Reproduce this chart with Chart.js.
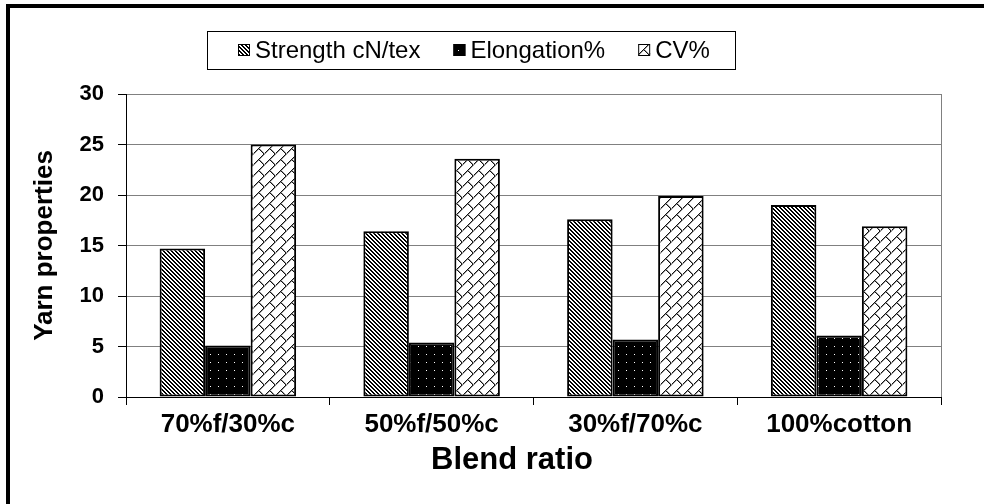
<!DOCTYPE html>
<html>
<head>
<meta charset="utf-8">
<script src="https://cdn.jsdelivr.net/npm/chart.js@4.4.1/dist/chart.umd.min.js"></script>
<style>
  html, body { margin: 0; padding: 0; background: #fff; }
  #wrap { width: 984px; height: 504px; }
</style>
</head>
<body>
<div id="wrap"><canvas id="yarnChart" width="984" height="504"></canvas></div>
<script>
// chart data
const blendRatios = ['70%f/30%c', '50%f/50%c', '30%f/70%c', '100%cotton'];
const seriesNames = ['Strength cN/tex', 'Elongation%', 'CV%'];
const strength = [14.7, 16.4, 17.6, 19.0];
const elongation = [5.1, 5.4, 5.7, 6.1];
const cv = [25.0, 23.6, 19.9, 16.9];
const yTicks = [0, 5, 10, 15, 20, 25, 30];
const xTitle = 'Blend ratio';
const yTitle = 'Yarn properties';

const FONT = '"Liberation Sans", Arial, sans-serif';

// small pixel tiles for the hatch fills
function makePattern(w, h, bg, pixels) {
    const c = document.createElement('canvas');
    c.width = w;
    c.height = h;
    const g = c.getContext('2d');
    g.fillStyle = bg;
    g.fillRect(0, 0, w, h);
    pixels.forEach(([x, y, col]) => {
        g.fillStyle = col;
        g.fillRect(x, y, 1, 1);
    });
    return g.createPattern(c, 'repeat');
}

// diagonal stripes "\"
const stripePx = [];
for (let y = 0; y < 4; y++) {
    for (let x = 0; x < 4; x++) {
        if ((x - y + 4) % 4 < 2) stripePx.push([x, y, '#000']);
    }
}
const strengthFill = makePattern(4, 4, '#fff', stripePx);

// black with white dots
const elongationFill = makePattern(8, 8, '#000', [[2, 2, '#fff']]);

// diagonal brick
const brickPx = [];
for (let x = 0; x < 11; x++) {
    brickPx.push([x, 10 - x, '#111']);
    brickPx.push([(x + 1) % 11, 10 - x, '#999']);
}
for (let x = 5; x < 11; x++) {
    brickPx.push([x, x, '#111']);
    brickPx.push([(x + 1) % 11, x, '#999']);
}
const cvFill = makePattern(11, 11, '#fff', brickPx);

const fills = [strengthFill, elongationFill, cvFill];

// outer frame, plot border, legend and x title
const decorations = {
    id: 'decorations',
    beforeDraw(chart) {
        const ctx = chart.ctx;
        ctx.save();
        ctx.fillStyle = '#fff';
        ctx.fillRect(0, 0, chart.width, chart.height);
        ctx.fillStyle = '#000';
        ctx.fillRect(6, 4, chart.width - 6, 4);
        ctx.fillRect(6, 4, 4, chart.height - 4);
        ctx.restore();
    },
    afterDraw(chart) {
        const ctx = chart.ctx;
        const area = chart.chartArea;
        ctx.save();
        // right edge of plot
        ctx.strokeStyle = '#808080';
        ctx.lineWidth = 1;
        ctx.beginPath();
        ctx.moveTo(Math.round(area.right) + 0.5, area.top);
        ctx.lineTo(Math.round(area.right) + 0.5, area.bottom);
        ctx.stroke();

        // legend
        ctx.strokeStyle = '#000';
        ctx.strokeRect(207.5, 31.5, 528, 38);
        ctx.font = '24px ' + FONT;
        ctx.textBaseline = 'middle';
        let x = 238;
        chart.data.datasets.forEach(ds => {
            ctx.fillStyle = ds.backgroundColor;
            ctx.fillRect(x, 44, 12, 12);
            ctx.strokeRect(x + 0.5, 44.5, 11, 11);
            ctx.fillStyle = '#000';
            ctx.fillText(ds.label, x + 17, 51);
            x += 17 + ctx.measureText(ds.label).width + 33;
        });

        // x axis title
        ctx.font = 'bold 31px ' + FONT;
        ctx.textAlign = 'center';
        ctx.fillText(xTitle, 512, 460);
        ctx.restore();
    }
};

const ctx = document.getElementById('yarnChart').getContext('2d');
new Chart(ctx, {
    type: 'bar',
    data: {
        labels: blendRatios,
        datasets: [strength, elongation, cv].map((values, i) => ({
            label: seriesNames[i],
            data: values,
            backgroundColor: fills[i],
            borderColor: '#000',
            borderWidth: 2,
            borderSkipped: false,
            categoryPercentage: 0.67,
            barPercentage: 1.0
        }))
    },
    options: {
        responsive: false,
        animation: false,
        layout: { padding: { left: 10, right: 43, top: 94, bottom: 0 } },
        plugins: {
            legend: { display: false },
            tooltip: { enabled: false }
        },
        scales: {
            x: {
                afterFit: s => { s.height = 107; },
                grid: { offset: true, drawOnChartArea: false, tickLength: 8, tickColor: '#000' },
                border: { color: '#000', width: 1 },
                ticks: {
                    color: '#000',
                    padding: 4,
                    maxRotation: 0,
                    font: { family: FONT, size: 26, weight: 'bold' }
                }
            },
            y: {
                min: 0,
                max: 30,
                afterFit: s => { s.width = 116; },
                afterBuildTicks: s => { s.ticks = yTicks.map(v => ({ value: v })); },
                grid: { color: '#808080', tickLength: 8, tickColor: '#000' },
                border: { color: '#000', width: 1 },
                ticks: {
                    color: '#000',
                    padding: 14,
                    font: { family: FONT, size: 22, weight: 'bold' }
                },
                title: {
                    display: true,
                    text: yTitle,
                    color: '#000',
                    padding: { top: 19, bottom: 0 },
                    font: { family: FONT, size: 26, weight: 'bold' }
                }
            }
        }
    },
    plugins: [decorations]
});
</script>
</body>
</html>
